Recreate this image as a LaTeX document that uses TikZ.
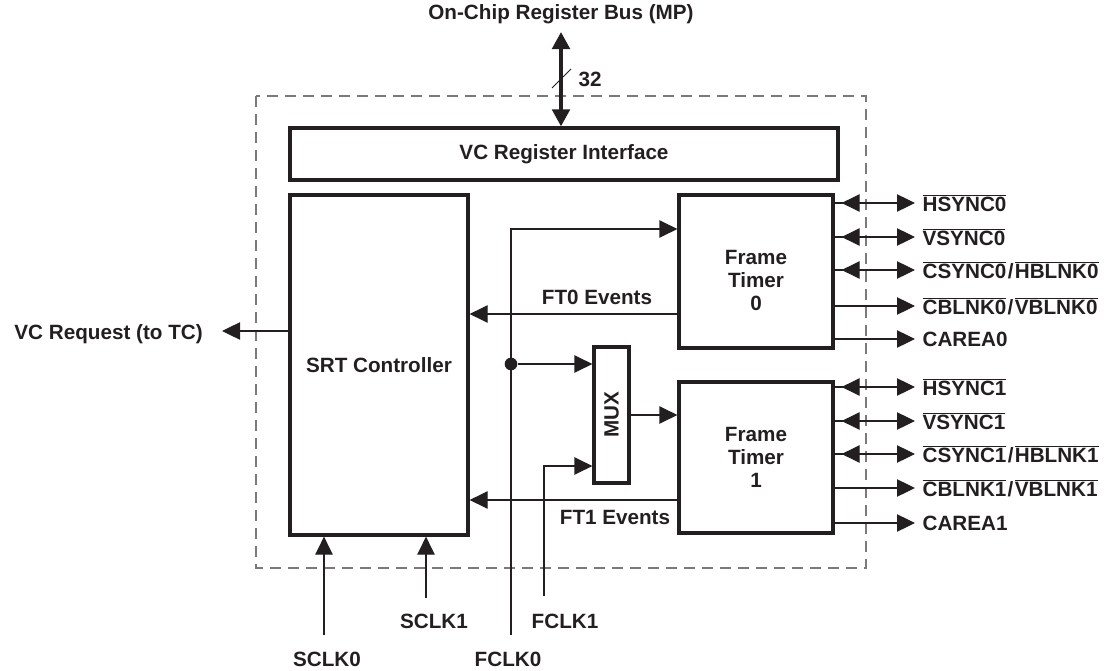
\documentclass[tikz,border=0pt]{standalone}
\usepackage{fontspec}
\setmainfont{Liberation Sans}
\usepackage{tikz}
\usepackage{xcolor}
\usetikzlibrary{
  positioning, arrows.meta, calc,
}
\definecolor{cInk}  {HTML}{231F20}
\definecolor{cFrame}{HTML}{7A7A7A}
\newcommand{\ovl}[1]{$\overline{\hbox{#1}}$}

\begin{document}
\begin{tikzpicture}[x=0.75pt, y=-0.75pt,
    every node/.style={font=\fontsize{15.5}{17.25}\selectfont\bfseries, text=cInk},
    blk/.style={draw=cInk, line width=2.4pt, inner sep=0pt, align=center},
    sig/.style={draw=cInk, line width=0.9pt, -{Triangle[length=13.5pt, width=13pt]}},
    pin/.style={anchor=west, inner xsep=5.5pt, inner ysep=0pt},
    txt/.style={inner sep=0pt},
  ]
  \useasboundingbox (0,0) rectangle (1111,671);
  \draw[cFrame, line width=1pt, dash pattern=on 8.5pt off 5pt] (256,96) rectangle (866,568);

  \node[blk, minimum width=411pt, minimum height=39pt] (vcri) at (564,154) {VC Register Interface};
  \node[blk, minimum width=133.5pt, minimum height=255pt] (srt) at (379,365) {SRT Controller};
  \node[blk, minimum width=115.5pt, minimum height=114.75pt] (ft0) at (756,271.5) {};
  \node[txt, align=center] (ft0lbl) at (756,280) {Frame\\Timer\\0};
  \node[blk, minimum width=115.5pt, minimum height=113.25pt] (ft1) at (756,457.5) {Frame\\Timer\\1};
  \node[blk, minimum width=26.25pt, minimum height=102pt] (mux) at (611.5,415) {};
  \node[txt, rotate=90] (muxlbl) at (mux) {MUX};

  % register bus
  \node[txt] (bus) at (561,14) {On-Chip Register Bus (MP)};
  \coordinate (bustop) at (561,32);
  \coordinate (busmid) at (561,79);
  \draw[cInk, line width=3pt, {Triangle[length=12.75pt, width=13pt]}-{Triangle[length=12.75pt, width=13pt]}]
    (bustop) -- (vcri.north -| bustop);
  \draw[cInk, line width=0.7pt] ([shift={(-9,9)}]busmid) -- ([shift={(10,-10)}]busmid);
  \node[txt] (buswidth) at (590,79) {32};

  % clocks
  \coordinate (fclk0in) at (511,635);
  \coordinate (fclk1in) at (544,596);
  \coordinate (sclk0in) at (324,635);
  \coordinate (sclk1in) at (426,598);
  \node[txt] (fclk0) at (508,659) {FCLK0};
  \node[txt] (fclk1) at (565,621) {FCLK1};
  \node[txt] (sclk0) at (327,659) {SCLK0};
  \node[txt] (sclk1) at (434,621) {SCLK1};
  \node[circle, fill=cInk, minimum size=9.5pt, inner sep=0pt] (split) at (511,364) {};
  \draw[sig] (fclk0in) |- (ft0.west |- 0,229);
  \draw[sig] (split) -- (mux.west |- split);
  \draw[sig] (fclk1in) |- (mux.west |- 0,466);
  \draw[sig] (mux.east) -- (ft1.west |- mux.east);
  \draw[sig] (sclk0in) -- (srt.south -| sclk0in);
  \draw[sig] (sclk1in) -- (srt.south -| sclk1in);

  % events
  \draw[sig] (ft0.west |- 0,314) -- (srt.east |- 0,314);
  \node[txt] (ft0ev) at (597,297) {FT0 Events};
  \draw[sig] (ft1.west |- 0,500) -- (srt.east |- 0,500);
  \node[txt] (ft1ev) at (615,517) {FT1 Events};

  \coordinate (vcout) at (222,331);
  \draw[sig] (srt.west |- vcout) -- (vcout);
  \node[txt, anchor=east] (vcreq) at (203,334) {VC Request (to TC)};

  % video pins
  \foreach \ft/\nm/\y/\bi/\txt in {
      ft0/hs0/203/1/{\ovl{HSYNC0}},
      ft0/vs0/237/1/{\ovl{VSYNC0}},
      ft0/cs0/270/1/{\ovl{CSYNC0}\kern1pt/\kern1pt\ovl{HBLNK0}},
      ft0/cb0/306/0/{\ovl{CBLNK0}\kern1pt/\kern1pt\ovl{VBLNK0}},
      ft0/ca0/339/0/{CAREA0},
      ft1/hs1/387/1/{\ovl{HSYNC1}},
      ft1/vs1/421/1/{\ovl{VSYNC1}},
      ft1/cs1/454/1/{\ovl{CSYNC1}\kern1pt/\kern1pt\ovl{HBLNK1}},
      ft1/cb1/488/0/{\ovl{CBLNK1}\kern1pt/\kern1pt\ovl{VBLNK1}},
      ft1/ca1/523/0/{CAREA1}}{
    \node[pin] (\nm) at (915,\y) {\txt};
    \draw[sig] (\ft.east |- \nm.west) -- (\nm.west);
    \ifnum\bi=1
      \draw[sig] ($(\ft.east |- \nm.west)+(25,0)$) -- ++(-18,0);
    \fi
  }
\end{tikzpicture}
\end{document}
